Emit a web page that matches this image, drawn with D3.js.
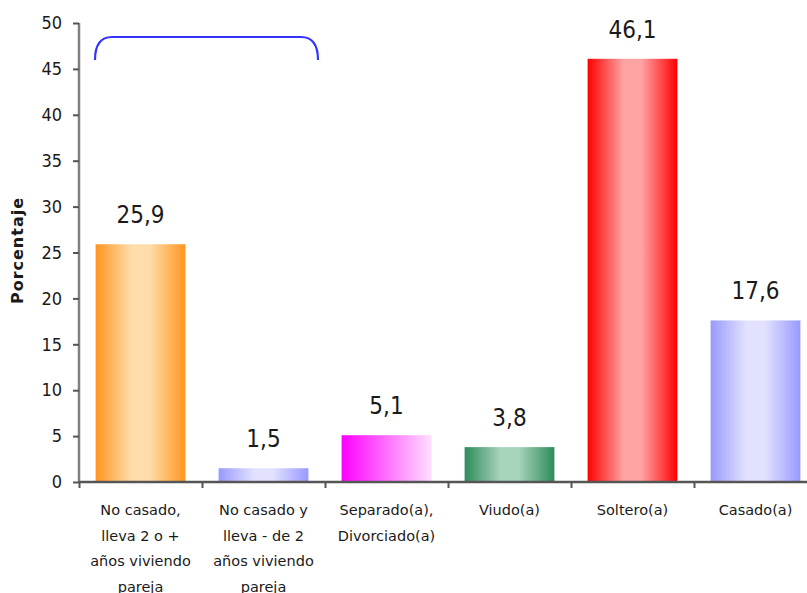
<!DOCTYPE html>
<html><head><meta charset="utf-8">
<script src="https://cdn.jsdelivr.net/npm/d3@7"></script>
<style>body{margin:0;background:#fff;} svg{display:block;}</style>
</head><body>
<script>
const categories = [
  ["No casado,", "lleva 2 o +", "años viviendo", "pareja"],
  ["No casado y", "lleva - de 2", "años viviendo", "pareja"],
  ["Separado(a),", "Divorciado(a)"],
  ["Viudo(a)"],
  ["Soltero(a)"],
  ["Casado(a)"]
];
const values = [25.9, 1.5, 5.1, 3.8, 46.1, 17.6];
const yTicks = [0, 5, 10, 15, 20, 25, 30, 35, 40, 45, 50];
const barColors = [
  {edge: "#FF9520", mid: "#FFDDAA", type: "center"},
  {edge: "#9999FF", mid: "#E2E2FF", type: "center"},
  {edge: "#FF00FF", mid: "#FFE0FF", type: "linear"},
  {edge: "#2E8B5A", mid: "#A8D4BC", type: "center"},
  {edge: "#FF0000", mid: "#FFA3A3", type: "center"},
  {edge: "#9999FF", mid: "#E2E2FF", type: "center"}
];

const W = 807, H = 593;
const svg = d3.select("body").append("svg").attr("width", W).attr("height", H);
const defs = svg.append("defs");

const x = d3.scaleBand().domain(d3.range(categories.length)).range([79, 817]).paddingInner(0.27).paddingOuter(0.135);
const y = d3.scaleLinear().domain([0, 50]).range([482, 23]);

barColors.forEach((c, i) => {
  const g = defs.append("linearGradient").attr("id", "g" + i).attr("x1", "0%").attr("x2", "100%").attr("y1", "0%").attr("y2", "0%");
  if (c.type === "center") {
    g.append("stop").attr("offset", "0%").attr("stop-color", c.edge);
    g.append("stop").attr("offset", "40%").attr("stop-color", c.mid);
    g.append("stop").attr("offset", "60%").attr("stop-color", c.mid);
    g.append("stop").attr("offset", "100%").attr("stop-color", c.edge);
  } else {
    g.append("stop").attr("offset", "0%").attr("stop-color", c.edge);
    g.append("stop").attr("offset", "100%").attr("stop-color", c.mid);
  }
});

// bars
svg.selectAll("rect.bar").data(values).enter().append("rect")
  .attr("class", "bar")
  .attr("x", (d, i) => x(i))
  .attr("width", x.bandwidth())
  .attr("y", d => y(d))
  .attr("height", d => y(0) - y(d))
  .attr("fill", (d, i) => "url(#g" + i + ")");

// value labels
svg.selectAll("text.val").data(values).enter().append("text")
  .attr("class", "val")
  .attr("x", (d, i) => x(i) + x.bandwidth() / 2)
  .attr("y", d => y(d) - 21)
  .attr("text-anchor", "middle")
  .attr("font-family", "'DejaVu Sans Condensed', 'DejaVu Sans', sans-serif")
  .attr("font-stretch", "condensed")
  .attr("font-size", 24)
  .attr("fill", "#1a1a1a")
  .text(d => d.toFixed(1).replace(".", ","));

// y axis
const yAxis = d3.axisLeft(y).tickValues(yTicks).tickSize(6).tickPadding(11);
const ya = svg.append("g").attr("transform", "translate(79,0)").call(yAxis);
ya.select(".domain").attr("stroke", "#808080").attr("stroke-width", 2.5).attr("d", "M0," + y(50) + "V" + y(0));
ya.selectAll(".tick line").attr("stroke", "#555").attr("stroke-width", 2);
ya.selectAll(".tick text").attr("font-family", "'DejaVu Sans Condensed', 'DejaVu Sans', sans-serif")
  .attr("font-stretch", "condensed").attr("font-size", 18).attr("fill", "#1a1a1a");

// x axis
const xAxis = d3.axisBottom(d3.scaleLinear().domain([0, 6]).range([79, 817])).ticks(6).tickSize(6).tickFormat("");
const xa = svg.append("g").attr("transform", "translate(0," + y(0) + ")").call(xAxis);
xa.select(".domain").attr("stroke", "#555").attr("stroke-width", 2.5).attr("d", "M79,0H817");
xa.selectAll(".tick line").attr("stroke", "#555").attr("stroke-width", 2);

// category labels
categories.forEach((lines, i) => {
  const cx = x(i) + x.bandwidth() / 2;
  const t = svg.append("text")
    .attr("x", cx)
    .attr("y", 515)
    .attr("text-anchor", "middle")
    .attr("font-family", "'DejaVu Sans', sans-serif")
    .attr("font-size", 14.5)
    .attr("fill", "#1a1a1a");
  lines.forEach((l, j) => {
    t.append("tspan").attr("x", cx).attr("dy", j === 0 ? 0 : 25.5).text(l);
  });
});

// y axis title
svg.append("text")
  .attr("transform", "translate(23,251) rotate(-90)")
  .attr("text-anchor", "middle")
  .attr("font-family", "'DejaVu Sans', sans-serif")
  .attr("font-weight", "bold")
  .attr("font-size", 16)
  .attr("textLength", 106)
  .attr("lengthAdjust", "spacing")
  .attr("fill", "#1a1a1a")
  .text("Porcentaje");

// bracket
const bx0 = 95, bx1 = 318, by0 = 60, by1 = 37, r = 17;
svg.append("path")
  .attr("d", `M${bx0},${by0} Q${bx0},${by1} ${bx0 + r},${by1} H${bx1 - r} Q${bx1},${by1} ${bx1},${by0}`)
  .attr("fill", "none").attr("stroke", "#3333FF").attr("stroke-width", 2.2);
</script>
</body></html>
